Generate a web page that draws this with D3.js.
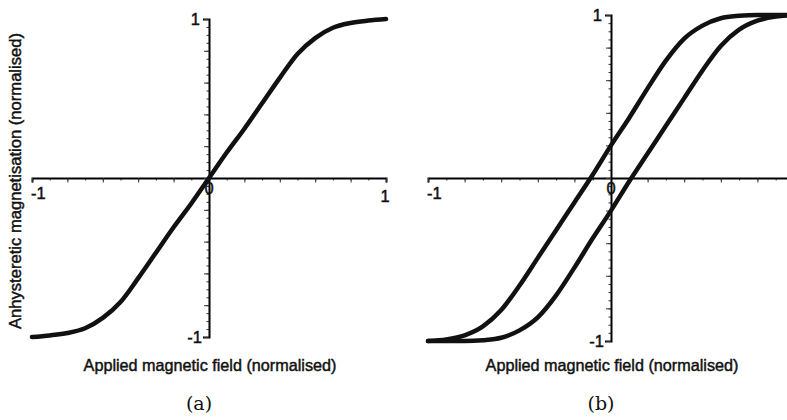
<!DOCTYPE html>
<html>
<head>
<meta charset="utf-8">
<script src="https://cdn.jsdelivr.net/npm/d3@7"></script>
<style>
  body { margin: 0; background: #fff; }
  text { font-family: "Liberation Sans", Arial, Helvetica, sans-serif; fill: #111; stroke: #111; stroke-width: 0.45px; }
  .cap { font-family: "DejaVu Serif", "Liberation Serif", serif; stroke-width: 0; }
</style>
</head>
<body>
<script>
// field values (normalised), shared by both panels
var field = [-1, -0.9, -0.8, -0.7, -0.6, -0.5, -0.4, -0.3, -0.2, -0.1, 0,
             0.1, 0.2, 0.3, 0.4, 0.5, 0.6, 0.7, 0.8, 0.9, 1];

// (a) anhysteretic curve
var anhyst = [-1.0, -0.99, -0.975, -0.945, -0.88, -0.78, -0.63, -0.47, -0.31, -0.16, 0,
              0.16, 0.31, 0.47, 0.63, 0.78, 0.88, 0.945, 0.975, 0.99, 1.0];

// (b) hysteresis loop, rising and falling branches
var rising = [-1.0, -1.0, -1.0, -0.995, -0.98, -0.935, -0.855, -0.72, -0.55, -0.37, -0.2,
              -0.02, 0.15, 0.32, 0.49, 0.66, 0.81, 0.91, 0.965, 0.99, 1.0];
var falling = [-1.0, -0.99, -0.965, -0.91, -0.81, -0.66, -0.49, -0.32, -0.15, 0.02, 0.2,
               0.37, 0.55, 0.72, 0.855, 0.935, 0.98, 0.995, 1.0, 1.0, 1.0];

var xTitle = "Applied magnetic field (normalised)";
var yTitle = "Anhysteretic magnetisation (normalised)";

var W = 787, H = 420;
var svg = d3.select("body").append("svg")
  .attr("width", W)
  .attr("height", H);

var panels = [
  { name: "(a)", xr: [32, 386], yr: [337, 19], series: [anhyst], rightLabel: true },
  { name: "(b)", xr: [428, 794], yr: [341, 15], series: [rising, falling], rightLabel: false }
];

panels.forEach(function(p) {
  var x = d3.scaleLinear().domain([-1, 1]).range(p.xr);
  var y = d3.scaleLinear().domain([-1, 1]).range(p.yr);
  var g = svg.append("g");

  // x axis: minor then major ticks
  g.append("g")
    .attr("transform", "translate(0," + y(0) + ")")
    .call(d3.axisBottom(x).tickValues(d3.range(-1, 1.001, 0.1)).tickSize(2.5).tickSizeOuter(0).tickFormat(""))
    .call(function(a) { a.select(".domain").remove(); });
  g.append("g")
    .attr("transform", "translate(0," + y(0) + ")")
    .call(d3.axisBottom(x).tickValues(d3.range(-1, 1.001, 0.2)).tickSize(4.5).tickSizeOuter(4.5).tickFormat(""))
    .call(function(a) { a.select(".domain").attr("stroke-width", 2); });

  // y axis
  g.append("g")
    .attr("transform", "translate(" + x(0) + ",0)")
    .call(d3.axisLeft(y).tickValues(d3.range(-1, 1.001, 0.05)).tickSize(2.5).tickSizeOuter(0).tickFormat(""))
    .call(function(a) { a.select(".domain").remove(); });
  g.append("g")
    .attr("transform", "translate(" + x(0) + ",0)")
    .call(d3.axisLeft(y).tickValues(d3.range(-1, 1.001, 0.2)).tickSize(5).tickSizeOuter(6).tickFormat(""))
    .call(function(a) { a.select(".domain").attr("stroke-width", 2); });

  g.selectAll(".tick line").attr("stroke", "#333");

  // tick labels
  var lab = g.append("g").attr("font-size", 16.5);
  lab.append("text").attr("x", x(0) - 9).attr("y", y(1) + 6).attr("text-anchor", "end").text("1");
  lab.append("text").attr("x", x(0) - 7).attr("y", y(-1) + 6).attr("text-anchor", "end").text("-1");
  lab.append("text").attr("x", x(-1) - 1).attr("y", y(0) + 21).attr("text-anchor", "start").text("-1");
  lab.append("text").attr("x", x(0)).attr("y", y(0) + 16).attr("text-anchor", "middle").text("0");
  if (p.rightLabel) {
    lab.append("text").attr("x", x(1) - 1).attr("y", y(0) + 24).attr("text-anchor", "middle").text("1");
  }

  // curves
  var line = d3.line()
    .x(function(d, i) { return x(field[i]); })
    .y(function(d) { return y(d); })
    .curve(d3.curveMonotoneX);
  g.selectAll("path.curve")
    .data(p.series)
    .enter().append("path")
    .attr("class", "curve")
    .attr("d", line)
    .attr("fill", "none")
    .attr("stroke", "#111")
    .attr("stroke-width", 4.5)
    .attr("stroke-linecap", "round")
    .attr("stroke-linejoin", "round");

  // titles
  g.append("text")
    .attr("x", x(0) + 1)
    .attr("y", 371)
    .attr("text-anchor", "middle")
    .attr("font-size", 16.2)
    .text(xTitle);
  g.append("text")
    .attr("class", "cap")
    .attr("x", x(0) - 10)
    .attr("y", 410)
    .attr("text-anchor", "middle")
    .attr("font-size", 19)
    .text(p.name);
});

svg.append("text")
  .attr("transform", "translate(21,181) rotate(-90)")
  .attr("text-anchor", "middle")
  .attr("font-size", 16.6)
  .text(yTitle);
</script>
</body>
</html>
